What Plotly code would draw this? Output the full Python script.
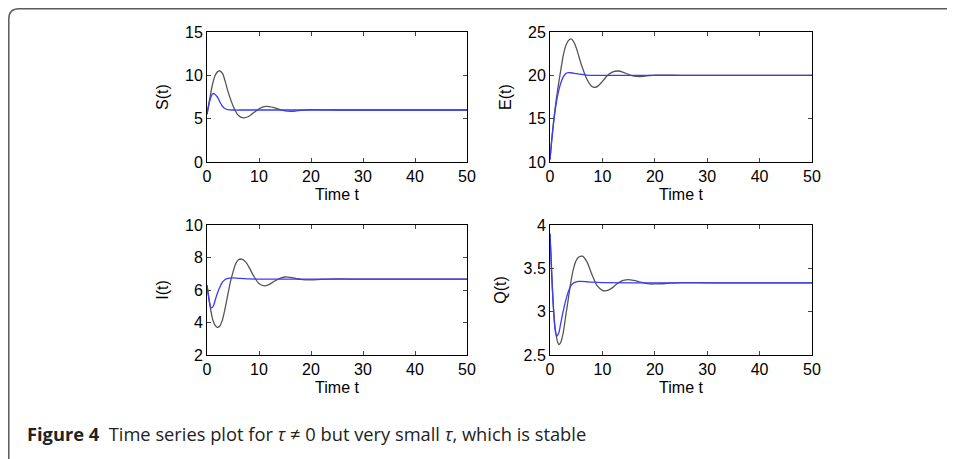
import plotly.graph_objects as go

# ---- data ----
S_grey_t = [0, 0.5, 1, 1.5, 2, 2.5, 3, 3.5, 4, 5, 6, 7, 8, 9, 10, 11, 12, 13, 14, 15, 16, 17, 18, 19, 20, 22, 25, 30, 35, 40, 45, 50]
S_grey_v = [5.5, 7.2, 8.8, 9.9, 10.4, 10.5, 10.2, 9.3, 8.2, 6.5, 5.4, 5.1, 5.25, 5.7, 6.15, 6.4, 6.4, 6.25, 6.05, 5.9, 5.85, 5.87, 5.95, 6.02, 6.05, 6.02, 6.0, 6.0, 6.0, 6.0, 6.0, 6.0]
S_blue_t = [0, 0.5, 1, 1.3, 2, 2.5, 3, 3.5, 4, 5, 7, 10, 20, 30, 40, 50]
S_blue_v = [5.5, 7.0, 7.8, 7.9, 7.5, 6.9, 6.4, 6.15, 6.05, 6.0, 6.0, 6.0, 6.0, 6.0, 6.0, 6.0]

E_grey_t = [0, 0.5, 1, 1.5, 2, 2.5, 3, 3.5, 4, 4.5, 5, 5.5, 6, 7, 8, 8.5, 9, 10, 11, 12, 13, 14, 15, 16, 17, 18, 19, 20, 22, 25, 30, 35, 40, 45, 50]
E_grey_v = [10.3, 13.6, 16.3, 18.5, 20.4, 22.2, 23.4, 24.0, 24.2, 23.9, 23.2, 22.2, 21.2, 19.6, 18.7, 18.6, 18.7, 19.3, 20.0, 20.4, 20.5, 20.35, 20.1, 19.9, 19.85, 19.9, 19.98, 20.03, 20.02, 20.0, 20.0, 20.0, 20.0, 20.0, 20.0]
E_blue_t = [0, 0.5, 1, 1.5, 2, 2.5, 3, 3.5, 4, 5, 6, 7, 8, 10, 20, 30, 40, 50]
E_blue_v = [10.3, 13.5, 16.0, 17.8, 19.0, 19.8, 20.2, 20.3, 20.3, 20.2, 20.1, 20.03, 20.0, 20.0, 20.0, 20.0, 20.0, 20.0]

I_grey_t = [0, 0.5, 1, 1.5, 2, 2.5, 3, 3.5, 4, 4.5, 5, 5.5, 6, 6.7, 7.5, 8, 9, 10, 11, 12, 13, 14, 15, 16, 17, 18, 19, 20, 22, 25, 30, 35, 40, 45, 50]
I_grey_v = [6.3, 5.2, 4.3, 3.85, 3.7, 3.8, 4.2, 4.9, 5.7, 6.5, 7.1, 7.6, 7.85, 7.9, 7.7, 7.45, 6.85, 6.4, 6.25, 6.35, 6.55, 6.72, 6.8, 6.78, 6.72, 6.65, 6.62, 6.62, 6.65, 6.68, 6.67, 6.67, 6.67, 6.67, 6.67]
I_blue_t = [0, 0.4, 0.8, 1.2, 1.6, 2, 2.5, 3, 3.5, 4, 5, 6, 7, 8, 10, 20, 30, 40, 50]
I_blue_v = [6.3, 5.4, 4.9, 5.0, 5.4, 5.8, 6.2, 6.5, 6.65, 6.72, 6.74, 6.72, 6.7, 6.68, 6.67, 6.67, 6.67, 6.67, 6.67]

Q_grey_t = [0, 0.3, 0.6, 1, 1.5, 1.7, 2, 2.5, 3, 3.5, 4, 4.5, 5, 5.5, 6.2, 7, 8, 9, 10, 10.5, 11, 12, 13, 14, 15, 16, 17, 18, 19, 20, 22, 25, 30, 35, 40, 45, 50]
Q_grey_v = [3.9, 3.5, 3.1, 2.8, 2.64, 2.62, 2.64, 2.75, 2.95, 3.15, 3.35, 3.5, 3.59, 3.63, 3.64, 3.58, 3.43, 3.3, 3.245, 3.24, 3.245, 3.28, 3.33, 3.36, 3.37, 3.36, 3.345, 3.33, 3.32, 3.32, 3.325, 3.335, 3.333, 3.333, 3.333, 3.333, 3.333]
Q_blue_t = [0, 0.3, 0.7, 1, 1.3, 1.7, 2, 2.5, 3, 3.5, 4, 4.5, 5, 5.5, 6, 7, 8, 10, 20, 30, 40, 50]
Q_blue_v = [3.9, 3.45, 3.0, 2.78, 2.72, 2.76, 2.85, 3.0, 3.13, 3.23, 3.3, 3.33, 3.345, 3.35, 3.35, 3.345, 3.34, 3.335, 3.333, 3.333, 3.333, 3.333]

x_ticks = [0, 10, 20, 30, 40, 50]
panels = [
    dict(name="S(t)", grey=(S_grey_t, S_grey_v), blue=(S_blue_t, S_blue_v), yr=[0, 15], yt=[0, 5, 10, 15]),
    dict(name="E(t)", grey=(E_grey_t, E_grey_v), blue=(E_blue_t, E_blue_v), yr=[10, 25], yt=[10, 15, 20, 25]),
    dict(name="I(t)", grey=(I_grey_t, I_grey_v), blue=(I_blue_t, I_blue_v), yr=[2, 10], yt=[2, 4, 6, 8, 10]),
    dict(name="Q(t)", grey=(Q_grey_t, Q_grey_v), blue=(Q_blue_t, Q_blue_v), yr=[2.5, 4], yt=[2.5, 3, 3.5, 4]),
]

W, H = 955, 459
OFF = 8  # page body margin offset
# pixel boxes in the page (left, right, top, bottom)
boxes = [(207, 467, 32, 162), (550, 812, 32, 162), (207, 467, 225, 355), (550, 812, 225, 355)]

GREY = "#555555"
BLUE = "#3a3aff"
tickfont = dict(family="Liberation Sans, Arial, sans-serif", size=16, color="black")

fig = go.Figure()
layout = {}
for i, (p, b) in enumerate(zip(panels, boxes)):
    n = "" if i == 0 else str(i + 1)
    xa, ya = "x" + n, "y" + n
    fig.add_trace(go.Scatter(x=p["grey"][0], y=p["grey"][1], mode="lines", xaxis=xa, yaxis=ya,
                             line=dict(color=GREY, width=1.3, shape="spline", smoothing=0.8), showlegend=False))
    fig.add_trace(go.Scatter(x=p["blue"][0], y=p["blue"][1], mode="lines", xaxis=xa, yaxis=ya,
                             line=dict(color=BLUE, width=1.3, shape="spline", smoothing=0.8), showlegend=False))
    l, r, t, bt = [v - OFF for v in b]
    layout["xaxis" + n] = dict(domain=[l / W, r / W], range=[0, 50], tickvals=x_ticks, anchor=ya,
                               ticks="inside", ticklen=4, showline=True, linecolor="black", linewidth=1,
                               mirror="ticks", showgrid=False, zeroline=False, tickfont=tickfont,
                               automargin=False,
                               title=dict(text="Time t", font=tickfont, standoff=4))
    layout["yaxis" + n] = dict(domain=[1 - bt / H, 1 - t / H], range=p["yr"], tickvals=p["yt"], anchor=xa,
                               ticks="inside", ticklen=4, showline=True, linecolor="black", linewidth=1,
                               mirror="ticks", showgrid=False, zeroline=False, tickfont=tickfont,
                               automargin=False,
                               title=dict(text=p["name"], font=tickfont, standoff=12))

fig.update_layout(**layout)

# frame around the figure (page coords minus offset)
def px(x, y):
    return f"{(x - OFF) / W:.5f},{1 - (y - OFF) / H:.5f}"

path = f"M {px(8.8, 480)} L {px(8.8, 19)} Q {px(8.8, 8.8)} {px(19, 8.8)} L {px(980, 8.8)}"
fig.add_shape(type="path", path=path, xref="paper", yref="paper",
              line=dict(color="#5a5a5a", width=1.5))

fig.add_annotation(xref="paper", yref="paper", x=(25 - OFF) / W, y=1 - (433 - OFF) / H,
                   xanchor="left", yanchor="middle", showarrow=False,
                   text="<b>Figure 4</b>\u00a0\u00a0Time series plot for <i>τ</i> ≠ 0 but very small <i>τ</i>, which is stable",
                   font=dict(family="Open Sans, sans-serif", size=18.3, color="#222222"))

fig.update_layout(width=W, height=H, margin=dict(l=0, r=0, t=0, b=0),
                  paper_bgcolor="white", plot_bgcolor="white")

fig.write_html("out.html")
